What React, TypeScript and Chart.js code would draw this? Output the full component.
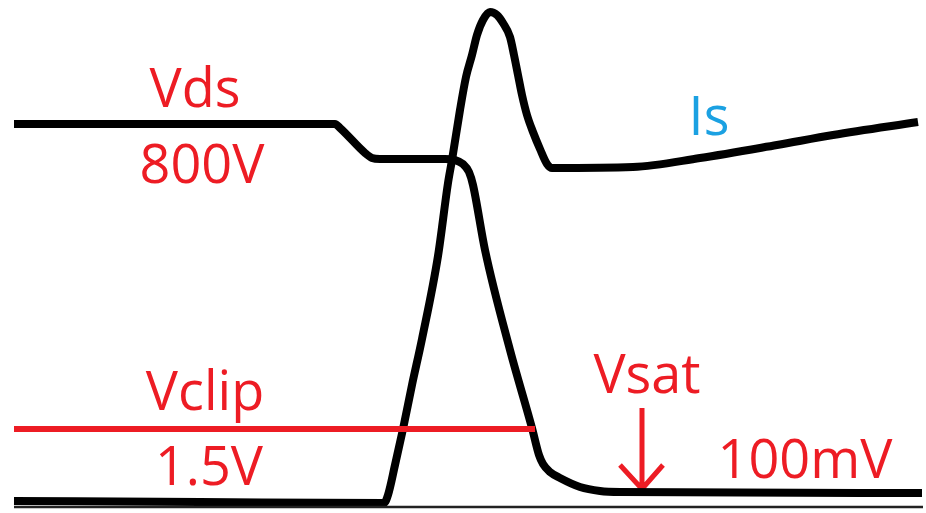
import React, { useEffect, useRef } from "react";
import { Chart, registerables } from "chart.js";

Chart.register(...registerables);

// Vds waveform (time units, level units)
const vdsTime = [14, 335, 340, 365, 372, 380, 445, 455, 463, 469, 473, 485, 510, 532, 539, 543, 550, 560, 580, 600, 620, 922];
const vdsLevel = [389, 389, 385, 360, 355, 354, 354, 353, 349, 341, 328, 263, 163, 85, 58, 49, 41, 35, 26, 22, 21, 20];

// Is waveform
const isTime = [14, 200, 384, 388, 395, 403, 412, 422, 438, 448, 452, 460, 466, 472, 477, 483, 490, 497, 503, 510, 514, 518, 522, 527, 533, 540, 547, 552, 633, 700, 777, 833, 918];
const isLevel = [12, 11, 10, 18, 48, 84, 128, 174, 257, 330, 353, 403, 436, 458, 478, 493, 501, 498, 490, 476, 458, 438, 418, 398, 381, 364, 349, 345, 346, 355, 368, 378, 391];

// Baseline
const baseTime = [14, 923];
const baseLevel = [6, 6];

// Vclip level line
const clipTime = [14, 535];
const clipLevel = [84, 84];

// Vsat arrow (shaft, gap, head)
const arrowTime = [642, 642, 642, 620, 642, 663];
const arrowLevel = [105, 24, null, 48, 24, 48];

// Text annotations
const labelText = ["Vds", "800V", "Is", "Vclip", "1.5V", "Vsat", "100mV"];
const labelTime = [195, 202, 709, 205, 209, 647, 805];
const labelLevel = [406, 330, 378, 103, 28, 120, 35];
const labelColor = ["#ed1c24", "#ed1c24", "#1ba1e2", "#ed1c24", "#ed1c24", "#ed1c24", "#ed1c24"];

const zip = (xs: number[], ys: (number | null)[]) => xs.map((x, i) => ({ x, y: ys[i] }));

const labelPlugin = {
  id: "labels",
  afterDatasetsDraw(chart: any) {
    const { ctx, scales } = chart;
    ctx.save();
    ctx.font = "54px 'Open Sans'";
    ctx.textAlign = "center";
    ctx.textBaseline = "alphabetic";
    labelText.forEach((t, i) => {
      ctx.fillStyle = labelColor[i];
      ctx.fillText(t, scales.x.getPixelForValue(labelTime[i]), scales.y.getPixelForValue(labelLevel[i]));
    });
    ctx.restore();
  },
};

export default function App() {
  const ref = useRef<HTMLCanvasElement>(null);
  useEffect(() => {
    if (!ref.current) return;
    const chart = new Chart(ref.current, {
      type: "scatter",
      data: {
        datasets: [
          { data: zip(baseTime, baseLevel), showLine: true, borderColor: "#222", borderWidth: 2.5, pointRadius: 0 },
          { data: zip(clipTime, clipLevel), showLine: true, borderColor: "#ed1c24", borderWidth: 6, pointRadius: 0 },
          { data: zip(vdsTime, vdsLevel), showLine: true, borderColor: "#000", borderWidth: 8, pointRadius: 0, cubicInterpolationMode: "monotone", borderJoinStyle: "round" },
          { data: zip(isTime, isLevel), showLine: true, borderColor: "#000", borderWidth: 8, pointRadius: 0, cubicInterpolationMode: "monotone", borderJoinStyle: "round" },
          { data: zip(arrowTime, arrowLevel) as any, showLine: true, spanGaps: false, borderColor: "#ed1c24", borderWidth: 5, pointRadius: 0 },
        ],
      },
      options: {
        animation: false,
        responsive: false,
        events: [],
        layout: { padding: 0 },
        plugins: { legend: { display: false }, tooltip: { enabled: false } },
        scales: {
          x: { type: "linear", min: 0, max: 926, display: false },
          y: { type: "linear", min: 0, max: 513, display: false },
        },
      },
      plugins: [labelPlugin],
    });
    return () => chart.destroy();
  }, []);
  return (
    <div style={{ position: "fixed", left: 0, top: 0, width: 926, height: 513, background: "#fff" }}>
      <canvas ref={ref} width={926} height={513} style={{ display: "block" }} />
    </div>
  );
}
